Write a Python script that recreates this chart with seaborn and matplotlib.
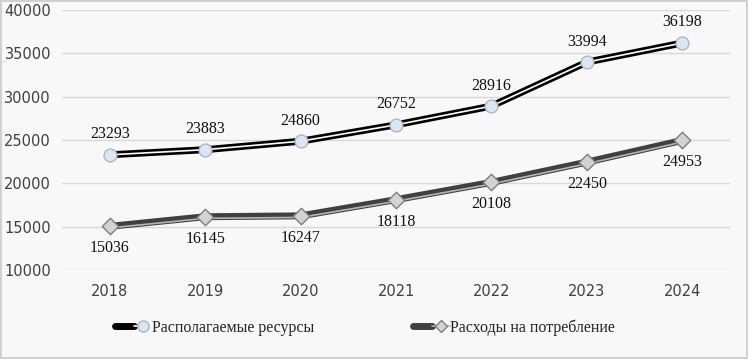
import matplotlib
matplotlib.use("Agg")
import matplotlib.pyplot as plt
import matplotlib.transforms as mtransforms
from matplotlib.lines import Line2D
from matplotlib.legend_handler import HandlerTuple
import seaborn as sns
import pandas as pd

# dane z wykresu
years = ["2018", "2019", "2020", "2021", "2022", "2023", "2024"]
resources = [23293, 23883, 24860, 26752, 28916, 33994, 36198]
consumption = [15036, 16145, 16247, 18118, 20108, 22450, 24953]
series_names = ["Располагаемые ресурсы", "Расходы на потребление"]

df = pd.DataFrame({"pos": range(len(years)), "year": years,
                   "res": resources, "cons": consumption})

bg = "#f8f8f8"
sns.set_theme(style="white")
plt.rcParams["font.family"] = ["DejaVu Sans"]

fig = plt.figure(figsize=(7.48, 3.59), dpi=100, facecolor=bg,
                 edgecolor="#d0d0d0", linewidth=1.5)
ax = fig.add_axes([0.083, 0.248, 0.893, 0.724])
ax.set_facecolor(bg)

# linia 1 - czarna podwojna
sns.lineplot(data=df, x="pos", y="res", color="black", lw=5, ax=ax, zorder=3)
sns.lineplot(data=df, x="pos", y="res", color="white", lw=1.2, ax=ax, zorder=4)
sns.scatterplot(data=df, x="pos", y="res", marker="o", s=85, color="#dce6f2",
                edgecolor="#aab6c8", linewidth=1, ax=ax, zorder=5)

# linia 2 - szara
off = mtransforms.offset_copy(ax.transData, fig=fig, y=-1.6, units="dots")
sns.lineplot(data=df, x="pos", y="cons", color="#404040", lw=5, ax=ax, zorder=3)
sns.lineplot(x=df["pos"], y=df["cons"], color="#b5b5b5", lw=1.2, ax=ax,
             zorder=4, transform=off)
sns.scatterplot(data=df, x="pos", y="cons", marker="D", s=70, color="#d3d3d3",
                edgecolor="#7f7f7f", linewidth=1, ax=ax, zorder=5)

# etykiety
for i in range(len(years)):
    ax.annotate(str(resources[i]), (i, resources[i]), xytext=(0, 9),
                textcoords="offset points", ha="center", va="bottom",
                fontsize=11.5, family="Liberation Serif", color="#111111")
    ax.annotate(str(consumption[i]), (i, consumption[i]), xytext=(0, -10),
                textcoords="offset points", ha="center", va="top",
                fontsize=11.5, family="Liberation Serif", color="#111111")

ax.set_xlim(-0.5, len(years) - 0.5)
ax.set_ylim(10000, 40000)
ax.set_yticks(range(10000, 40001, 5000))
ax.set_xticks(range(len(years)))
ax.set_xticklabels(years)
ax.tick_params(axis="both", length=0, labelsize=10.5, labelcolor="#404040", pad=8)
ax.tick_params(axis="x", pad=10)
ax.grid(axis="y", color="#d9d9d9", lw=1)
for s in ax.spines.values():
    s.set_visible(False)
ax.set_xlabel("")
ax.set_ylabel("")

h1 = (Line2D([], [], color="black", lw=5),
      Line2D([], [], color="white", lw=1.2, marker="o", markersize=8,
             markerfacecolor="#dce6f2", markeredgecolor="#aab6c8"))
h2 = (Line2D([], [], color="#404040", lw=5),
      Line2D([], [], color="#b5b5b5", lw=1.2, marker="D", markersize=6,
             markerfacecolor="#d3d3d3", markeredgecolor="#7f7f7f"))
fig.legend([h1, h2], series_names, handler_map={tuple: HandlerTuple(ndivide=None, pad=0)},
           loc="center", bbox_to_anchor=(0.488, 0.088), ncol=2, frameon=False,
           prop={"family": "Liberation Serif", "size": 11.5},
           handlelength=2.3, handletextpad=0.0, columnspacing=6.2)

fig.savefig("out.png", dpi=100, facecolor=bg, edgecolor="#d0d0d0")
